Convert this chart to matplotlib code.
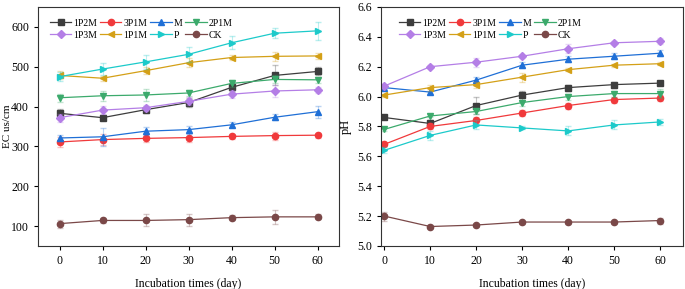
import numpy as np
import matplotlib.pyplot as plt
from matplotlib.colors import to_rgba

plt.rcParams['font.family'] = ['Liberation Serif', 'DejaVu Serif']

days = [0, 10, 20, 30, 40, 50, 60]
names = ["1P2M", "3P1M", "M", "2P1M", "1P3M", "1P1M", "P", "CK"]
colors = ['#3d3d3d', '#f0393b', '#1f6fd6', '#3caa6c', '#b47ee6', '#d4a017', '#1ccaca', '#7a4848']
markers = ['s', 'o', '^', 'v', 'D', '<', '>', 'o']

# EC (us/cm)
ec_1p2m = [383, 372, 392, 410, 448, 478, 488]
ec_3p1m = [311, 317, 320, 322, 325, 327, 328]
ec_m = [321, 324, 338, 342, 354, 373, 387]
ec_2p1m = [422, 427, 429, 434, 458, 468, 467]
ec_1p3m = [372, 391, 397, 413, 431, 439, 442]
ec_1p1m = [478, 471, 490, 510, 523, 526, 527]
ec_p = [475, 494, 512, 531, 560, 584, 590]
ec_ck = [106, 114, 114, 116, 121, 123, 123]

ec_err_1p2m = [12, 6, 8, 12, 10, 25, 10]
ec_err_3p1m = [12, 14, 10, 12, 6, 10, 6]
ec_err_m = [8, 22, 10, 10, 6, 8, 15]
ec_err_2p1m = [10, 12, 14, 8, 8, 10, 8]
ec_err_1p3m = [10, 10, 8, 10, 10, 15, 8]
ec_err_1p1m = [10, 6, 8, 12, 6, 12, 8]
ec_err_p = [12, 16, 18, 18, 16, 12, 22]
ec_err_ck = [10, 6, 15, 15, 6, 18, 6]

# pH
ph_1p2m = [5.86, 5.82, 5.94, 6.01, 6.06, 6.08, 6.09]
ph_3p1m = [5.68, 5.80, 5.84, 5.89, 5.94, 5.98, 5.99]
ph_m = [6.06, 6.03, 6.11, 6.21, 6.25, 6.27, 6.29]
ph_2p1m = [5.78, 5.87, 5.90, 5.96, 6.00, 6.02, 6.02]
ph_1p3m = [6.07, 6.20, 6.23, 6.27, 6.32, 6.36, 6.37]
ph_1p1m = [6.01, 6.06, 6.08, 6.13, 6.18, 6.21, 6.22]
ph_p = [5.64, 5.74, 5.81, 5.79, 5.77, 5.81, 5.83]
ph_ck = [5.20, 5.13, 5.14, 5.16, 5.16, 5.16, 5.17]

ph_err_1p2m = [0.01, 0.02, 0.06, 0.03, 0.02, 0.02, 0.01]
ph_err_3p1m = [0.01, 0.02, 0.02, 0.02, 0.02, 0.02, 0.02]
ph_err_m = [0.01, 0.01, 0.02, 0.02, 0.02, 0.02, 0.02]
ph_err_2p1m = [0.01, 0.01, 0.02, 0.02, 0.02, 0.02, 0.03]
ph_err_1p3m = [0.01, 0.01, 0.03, 0.01, 0.03, 0.01, 0.02]
ph_err_1p1m = [0.01, 0.02, 0.02, 0.03, 0.01, 0.01, 0.01]
ph_err_p = [0.02, 0.03, 0.03, 0.01, 0.03, 0.03, 0.02]
ph_err_ck = [0.03, 0.01, 0.01, 0.01, 0.01, 0.01, 0.02]

ec_all = [ec_1p2m, ec_3p1m, ec_m, ec_2p1m, ec_1p3m, ec_1p1m, ec_p, ec_ck]
ec_err_all = [ec_err_1p2m, ec_err_3p1m, ec_err_m, ec_err_2p1m, ec_err_1p3m, ec_err_1p1m, ec_err_p, ec_err_ck]
ph_all = [ph_1p2m, ph_3p1m, ph_m, ph_2p1m, ph_1p3m, ph_1p1m, ph_p, ph_ck]
ph_err_all = [ph_err_1p2m, ph_err_3p1m, ph_err_m, ph_err_2p1m, ph_err_1p3m, ph_err_1p1m, ph_err_p, ph_err_ck]

fig = plt.figure(figsize=(6.85, 2.89), dpi=100)
ax1 = fig.add_axes([0.0555, 0.149, 0.4394, 0.827])
ax2 = fig.add_axes([0.5562, 0.149, 0.4409, 0.827])


def draw(ax, data, errs, leg_x):
    handles = []
    for vals, err, name, c, m in zip(data, errs, names, colors, markers):
        ms = 4 if m == 'D' else 4.5
        ax.errorbar(days, vals, yerr=err, fmt='none', capsize=2,
                    ecolor=to_rgba(c, 0.3), elinewidth=0.8)
        h, = ax.plot(days, vals, color=c, marker=m, markersize=ms,
                     linewidth=0.9, label=name)
        handles.append(h)
    for s in ax.spines.values():
        s.set_linewidth(0.8)
        s.set_color('#333333')
    ax.tick_params(axis='both', labelsize=8.5, length=3, width=0.8, direction='out')
    ax.set_xticks(days)
    ax.set_xlabel("Incubation times (day)", fontsize=8.5, labelpad=8)
    # legend filled row by row
    order = [0, 4, 1, 5, 2, 6, 3, 7]
    ax.legend([handles[i] for i in order], [names[i] for i in order],
              ncol=4, frameon=False, fontsize=7, handlelength=2.2,
              handletextpad=0.2, columnspacing=0.3, labelspacing=0.3,
              loc='upper left', bbox_to_anchor=(leg_x, 0.975), borderaxespad=0.2)


draw(ax1, ec_all, ec_err_all, 0.02)
ax1.set_xlim(-5, 65)
ax1.set_ylim(50, 650)
ax1.set_yticks([100, 200, 300, 400, 500, 600])
ax1.set_ylabel("EC us/cm", fontsize=8)
ax1.yaxis.set_label_coords(-0.085, 0.5)

draw(ax2, ph_all, ph_err_all, 0.04)
ax2.set_xlim(-0.7, 65)
ax2.set_ylim(5.0, 6.6)
ax2.set_yticks([5.0, 5.2, 5.4, 5.6, 5.8, 6.0, 6.2, 6.4, 6.6])
ax2.yaxis.set_major_formatter(plt.FormatStrFormatter('%.1f'))
ax2.set_ylabel("pH", fontsize=9)
ax2.yaxis.set_label_coords(-0.095, 0.5)

fig.savefig("out.png", dpi=100)
